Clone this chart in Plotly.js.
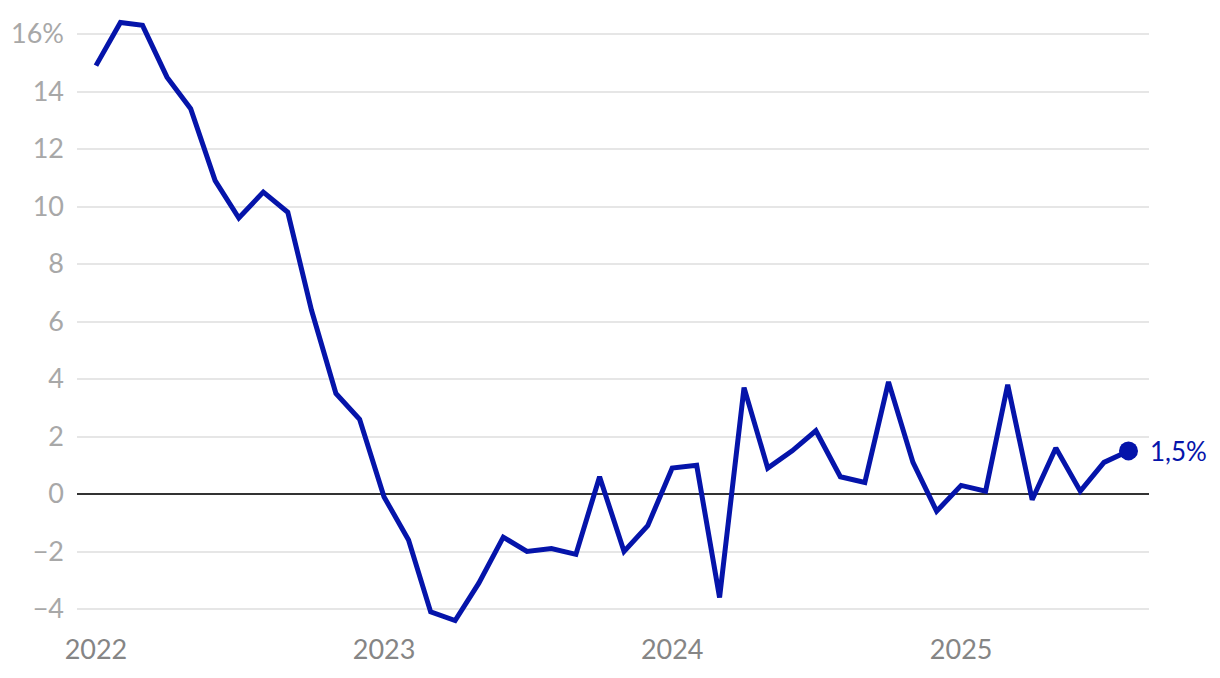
<!DOCTYPE html>
<html>
<head>
<meta charset="utf-8">
<script src="https://cdn.plot.ly/plotly-3.0.1.min.js"></script>
<style>
html,body{margin:0;padding:0;background:#fff;}
#chart{width:1220px;height:678px;}
</style>
</head>
<body>
<div id="chart"></div>
<script>
const months = [
  "2022-01-01","2022-02-01","2022-03-01","2022-04-01","2022-05-01","2022-06-01",
  "2022-07-01","2022-08-01","2022-09-01","2022-10-01","2022-11-01","2022-12-01",
  "2023-01-01","2023-02-01","2023-03-01","2023-04-01","2023-05-01","2023-06-01",
  "2023-07-01","2023-08-01","2023-09-01","2023-10-01","2023-11-01","2023-12-01",
  "2024-01-01","2024-02-01","2024-03-01","2024-04-01","2024-05-01","2024-06-01",
  "2024-07-01","2024-08-01","2024-09-01","2024-10-01","2024-11-01","2024-12-01",
  "2025-01-01","2025-02-01","2025-03-01","2025-04-01","2025-05-01","2025-06-01",
  "2025-07-01","2025-08-01"
];
const values = [
  14.9, 16.4, 16.3, 14.5, 13.4, 10.9,
  9.6, 10.5, 9.8, 6.4, 3.5, 2.6,
  -0.1, -1.6, -4.1, -4.4, -3.1, -1.5,
  -2.0, -1.9, -2.1, 0.6, -2.0, -1.1,
  0.9, 1.0, -3.6, 3.7, 0.9, 1.5,
  2.2, 0.6, 0.4, 3.9, 1.1, -0.6,
  0.3, 0.1, 3.8, -0.2, 1.6, 0.1,
  1.1, 1.5
];
const yTickVals = [-4, -2, 0, 2, 4, 6, 8, 10, 12, 14, 16];
const yTickText = ["\u22124", "\u22122", "0", "2", "4", "6", "8", "10", "12", "14", "16%"];
const xTickVals = ["2022-01-01", "2023-01-01", "2024-01-01", "2025-01-01"];
const xTickText = ["2022", "2023", "2024", "2025"];
const lastLabel = "1,5%";

const lineColor = "#0514aa";
const lastIdx = values.length - 1;

const traces = [
  {
    type: "scatter",
    mode: "lines",
    x: months,
    y: values,
    line: {color: lineColor, width: 5, shape: "linear"},
    hoverinfo: "skip",
    showlegend: false
  },
  {
    type: "scatter",
    mode: "markers",
    x: [months[lastIdx]],
    y: [values[lastIdx]],
    marker: {color: lineColor, size: 19},
    cliponaxis: false,
    hoverinfo: "skip",
    showlegend: false
  }
];

const layout = {
  width: 1220,
  height: 678,
  margin: {l: 77, r: 71, t: 10, b: 48},
  paper_bgcolor: "#ffffff",
  plot_bgcolor: "#ffffff",
  font: {family: "Lato, sans-serif"},
  showlegend: false,
  annotations: [{
    x: months[lastIdx],
    y: values[lastIdx],
    xref: "x",
    yref: "y",
    text: lastLabel,
    showarrow: false,
    xanchor: "left",
    yanchor: "middle",
    xshift: 20,
    font: {family: "Lato, sans-serif", size: 26, color: lineColor}
  }],
  xaxis: {
    type: "date",
    range: ["2021-12-08", "2025-08-27"],
    tickvals: xTickVals,
    ticktext: xTickText,
    showgrid: false,
    zeroline: false,
    showline: false,
    ticks: "",
    tickfont: {family: "Lato, sans-serif", size: 27, color: "#858585"},
    ticklabelstandoff: 1,
    fixedrange: true
  },
  yaxis: {
    range: [-4.73, 16.835],
    tickvals: yTickVals,
    ticktext: yTickText,
    showgrid: true,
    gridcolor: "#e6e6e6",
    gridwidth: 2,
    zeroline: true,
    zerolinecolor: "#333333",
    zerolinewidth: 2,
    showline: false,
    ticks: "",
    tickfont: {family: "Lato, sans-serif", size: 27, color: "#a8a8a8"},
    ticklabelstandoff: 12,
    fixedrange: true
  }
};

Plotly.newPlot("chart", traces, layout, {displayModeBar: false, staticPlot: true});
</script>
</body>
</html>
